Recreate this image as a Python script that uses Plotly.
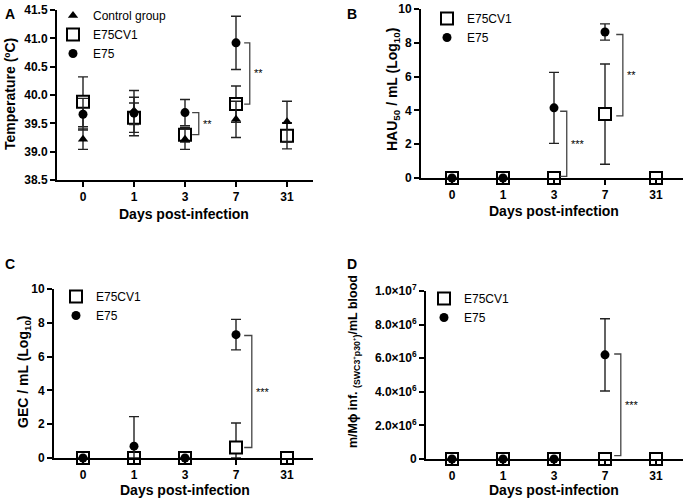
import plotly.graph_objects as go

W, H = 685, 501
FONT = "Liberation Sans, Arial, sans-serif"

# ---------------- data ----------------
days = ["0", "1", "3", "7", "31"]

# Panel A: temperature (ºC)
temp_control = [39.22, 39.72, 39.22, 39.57, 39.53]
temp_control_err = [0.18, 0.24, 0.18, 0.32, 0.36]
temp_cv1 = [39.88, 39.60, 39.30, 39.84, 39.28]
temp_cv1_err = [0.44, 0.26, 0.13, 0.32, 0.23]
temp_e75 = [39.66, 39.68, 39.69, 40.92, None]
temp_e75_err = [0.28, 0.40, 0.23, 0.47, None]

# Panel B: HAU50 / mL (Log10)
hau_cv1 = [0, 0, 0, 3.78, 0]
hau_cv1_err = [0, 0, 0, 2.97, 0]
hau_e75 = [0, 0, 4.15, 8.64, None]
hau_e75_err = [0, 0, 2.10, 0.48, None]

# Panel C: GEC / mL (Log10)
gec_cv1 = [0, 0, 0, 0.62, 0]
gec_cv1_err = [0, 0, 0, 1.45, 0]
gec_e75 = [0, 0.70, 0, 7.30, None]
gec_e75_err = [0, 1.75, 0, 0.90, None]

# Panel D: infected monocytes/macrophages per mL blood
mac_cv1 = [0, 0, 0, 0, 0]
mac_cv1_err = [0, 0, 0, 0, 0]
mac_e75 = [0, 0, 0, 6.2e6, None]
mac_e75_err = [0, 0, 0, 2.15e6, None]

d_ticks = [0, 2e6, 4e6, 6e6, 8e6, 1e7]
d_ticktext = ["0", "2.0×10<sup>6</sup>", "4.0×10<sup>6</sup>", "6.0×10<sup>6</sup>",
              "8.0×10<sup>6</sup>", "1.0×10<sup>7</sup>"]

# ---------------- helpers ----------------
def fx(px):
    return px / W

def fy(py):
    return 1 - py / H

xi = list(range(len(days)))

# plot areas in pixels: (left, right, top, bottom)
boxes = {
    1: (57, 313, 10, 180),
    2: (421, 683, 9, 178),
    3: (54, 313, 289, 458),
    4: (426, 683, 291, 459),
}
cat0 = {1: 83, 2: 452, 3: 83, 4: 452}
step = 51.0

fig = go.Figure()

def lower(vals, errs):
    out = []
    for v, e in zip(vals, errs):
        if v is None or e is None:
            out.append(None)
        else:
            out.append(min(v, e))
    return out

def add(panel, y, err, name, symbol, size, filled, legend, rank, clip_low=False):
    ax = "" if panel == 1 else str(panel)
    minus = lower(y, err) if clip_low else err
    fig.add_trace(go.Scatter(
        x=xi, y=y, mode="markers", name=name,
        xaxis="x" + ax, yaxis="y" + ax,
        legend=legend, legendrank=rank,
        cliponaxis=False,
        marker=dict(symbol=symbol, size=size,
                    color="black" if filled else "white",
                    line=dict(color="black", width=0 if filled else 2)),
        error_y=dict(type="data", array=err, arrayminus=minus, visible=True,
                     color="#222222", thickness=1.4, width=5),
    ))

# Panel A
add(1, temp_cv1, temp_cv1_err, "E75CV1", "square", 12, False, "legend", 2)
add(1, temp_control, temp_control_err, "Control group", "triangle-up", 9, True, "legend", 1)
add(1, temp_e75, temp_e75_err, "E75", "circle", 9, True, "legend", 3)
# Panel B
add(2, hau_cv1, hau_cv1_err, "E75CV1", "square", 12, False, "legend2", 1, True)
add(2, hau_e75, hau_e75_err, "E75", "circle", 9, True, "legend2", 2, True)
# Panel C
add(3, gec_cv1, gec_cv1_err, "E75CV1", "square", 12, False, "legend3", 1, True)
add(3, gec_e75, gec_e75_err, "E75", "circle", 9, True, "legend3", 2, True)
# Panel D
add(4, mac_cv1, mac_cv1_err, "E75CV1", "square", 12, False, "legend4", 1, True)
add(4, mac_e75, mac_e75_err, "E75", "circle", 9, True, "legend4", 2, True)

tickfont = dict(family=FONT, size=12, color="black", weight="bold")

def axes(panel, yrange, ytickvals=None, yticktext=None, dtick=None):
    l, r, t, b = boxes[panel]
    c0 = cat0[panel]
    xr = [(l - c0) / step, (r - c0) / step]
    common = dict(showline=True, linewidth=2, linecolor="black", ticks="outside",
                  ticklen=5, tickwidth=2, tickcolor="black", showgrid=False,
                  zeroline=False, tickfont=tickfont, fixedrange=True)
    ax = "" if panel == 1 else str(panel)
    xa = dict(common, domain=[fx(l), fx(r)], range=xr, tickvals=xi, ticktext=days,
              anchor="y" + ax)
    ya = dict(common, domain=[fy(b), fy(t)], range=yrange, anchor="x" + ax)
    if ytickvals is not None:
        ya.update(tickvals=ytickvals, ticktext=yticktext, tickmode="array")
    if dtick is not None:
        ya.update(dtick=dtick, tick0=yrange[0], tickformat=".1f")
    fig.update_layout(**{"xaxis" + ax: xa, "yaxis" + ax: ya})

axes(1, [38.5, 41.5], dtick=0.5)
axes(2, [0, 10], ytickvals=[0, 2, 4, 6, 8, 10], yticktext=["0", "2", "4", "6", "8", "10"])
axes(3, [0, 10], ytickvals=[0, 2, 4, 6, 8, 10], yticktext=["0", "2", "4", "6", "8", "10"])
axes(4, [0, 1e7], ytickvals=d_ticks, yticktext=d_ticktext)

# ---------------- significance brackets ----------------
brackets = [
    (1, 2, temp_e75[2], temp_cv1[2], "**", 0.14, 0.27),
    (1, 3, temp_e75[3], temp_cv1[3], "**", 0.16, 0.27),
    (2, 2, hau_e75[2] - 0.2, hau_cv1[2] + 0.1, "***", 0.12, 0.25),
    (2, 3, hau_e75[3] - 0.15, hau_cv1[3] - 0.1, "**", 0.22, 0.35),
    (3, 3, gec_e75[3] - 0.05, gec_cv1[3], "***", 0.16, 0.31),
    (4, 3, mac_e75[3] + 0.05e6, mac_cv1[3] + 0.2e6, "***", 0.18, 0.31),
]
shapes = []
annotations = []
for panel, di, ytop, ybot, lab, a, bb in brackets:
    ax = "" if panel == 1 else str(panel)
    x1, x2 = di + a, di + bb
    path = f"M {x1},{ytop} L {x2},{ytop} L {x2},{ybot} L {x1},{ybot}"
    shapes.append(dict(type="path", path=path, xref="x" + ax, yref="y" + ax,
                       line=dict(color="#444444", width=1.3)))
    annotations.append(dict(x=x2, y=(ytop + ybot) / 2, xref="x" + ax, yref="y" + ax,
                            text=lab, showarrow=False, xanchor="left", xshift=2,
                            font=dict(family=FONT, size=11, color="black")))

# panel letters
for lab, px, py in [("A", 3, 4), ("B", 345, 4), ("C", 3, 254), ("D", 345, 254)]:
    annotations.append(dict(x=fx(px), y=fy(py), xref="paper", yref="paper", text=lab,
                            showarrow=False, xanchor="left", yanchor="top",
                            font=dict(family=FONT, size=14, color="black", weight="bold")))

# axis titles
titlefont = dict(family=FONT, size=14, color="black", weight="bold")
for px, py in [(184, 214), (554, 211), (185, 490), (554, 490)]:
    annotations.append(dict(x=fx(px), y=fy(py), xref="paper", yref="paper",
                            text="Days post-infection", showarrow=False,
                            xanchor="center", yanchor="middle", font=titlefont))

ytitles = [
    ("Temperature (ºC)", 10, 94, 14),
    ("HAU<sub>50</sub> / mL (Log<sub>10</sub>)", 393, 90, 14),
    ("GEC / mL (Log<sub>10</sub>)", 24, 372, 14),
    ("m/Mϕ inf. <sub>(SWC3<sup>+</sup>p30<sup>+</sup>)</sub>/mL blood", 354, 362, 12.5),
]
for txt, px, py, fs in ytitles:
    annotations.append(dict(x=fx(px), y=fy(py), xref="paper", yref="paper", text=txt,
                            showarrow=False, textangle=-90, xanchor="center",
                            yanchor="middle",
                            font=dict(family=FONT, size=fs, color="black", weight="bold")))

legfont = dict(family=FONT, size=12, color="black")
def leg(px, py):
    return dict(x=fx(px), y=fy(py), xanchor="left", yanchor="top",
                bgcolor="rgba(0,0,0,0)", borderwidth=0, font=legfont,
                tracegroupgap=0, itemsizing="trace")

fig.update_layout(
    width=W, height=H,
    margin=dict(l=0, r=0, t=0, b=0, autoexpand=False),
    paper_bgcolor="white", plot_bgcolor="white",
    font=dict(family=FONT, color="black"),
    shapes=shapes, annotations=annotations,
    legend=leg(53, 1),
    legend2=leg(427, 4),
    legend3=leg(56, 282),
    legend4=leg(424, 284),
)

fig.write_html("out.html",
               config={"displayModeBar": False},
               post_script="document.body.style.margin='0';"
                           "document.body.style.overflow='hidden';")
